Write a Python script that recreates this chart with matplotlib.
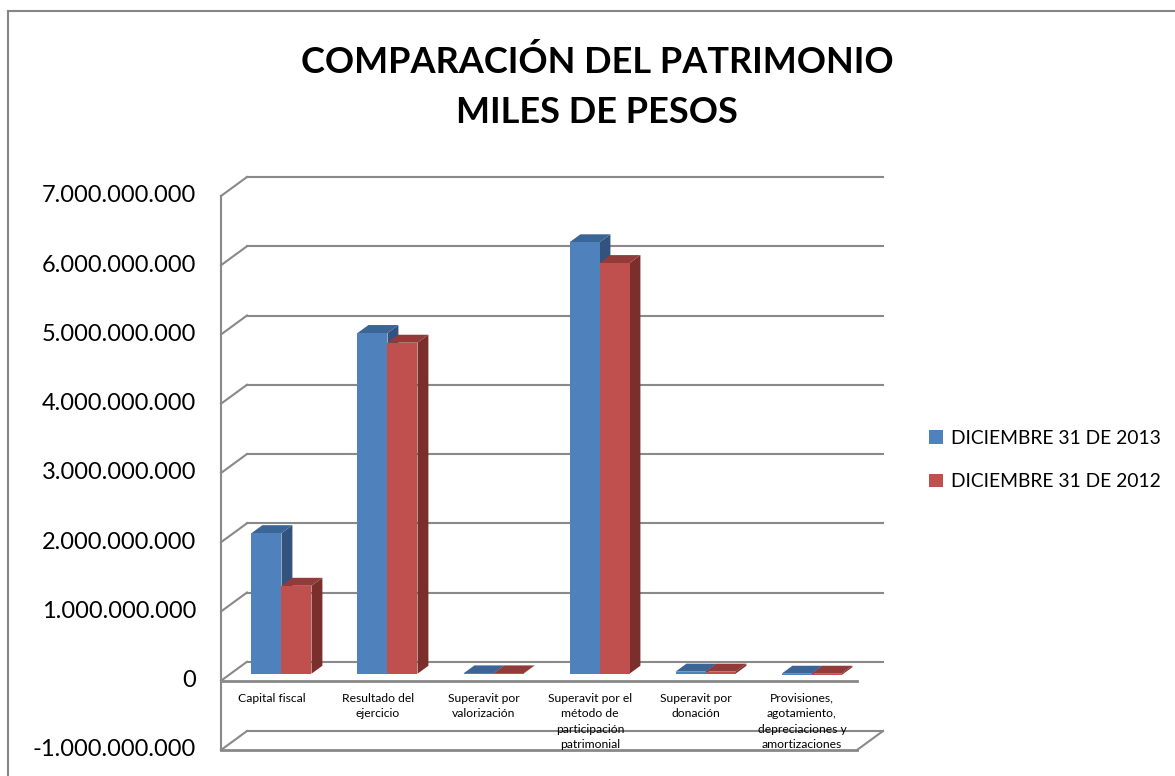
import matplotlib.pyplot as plt
from matplotlib.patches import Polygon, Patch
from matplotlib.lines import Line2D

plt.rcParams['font.family'] = ['Lato', 'DejaVu Sans']

# datos (miles de pesos)
categorias = ["Capital fiscal", "Resultado del\nejercicio", "Superavit por\nvalorización",
              "Superavit por el\nmétodo de\nparticipación\npatrimonial", "Superavit por\ndonación",
              "Provisiones,\nagotamiento,\ndepreciaciones y\namortizaciones"]
dic_2013 = [2.03e9, 4.92e9, 0.005e9, 6.23e9, 0.03e9, -0.02e9]
dic_2012 = [1.27e9, 4.78e9, 0.005e9, 5.93e9, 0.03e9, -0.02e9]
series = ["DICIEMBRE 31 DE 2013", "DICIEMBRE 31 DE 2012"]
ticks_y = [-1e9, 0, 1e9, 2e9, 3e9, 4e9, 5e9, 6e9, 7e9]

# colores: frente, tapa, lado
col_azul = ("#4F81BD", "#3C6597", "#31537D")
col_rojo = ("#C0504D", "#923B39", "#7A2F2D")

# proyeccion oblicua tipo Excel 3D
DX = 0.245      # en categorias
DY = 0.274e9    # en valores
ancho = 0.283
f0, f1 = 0.37, 0.79
gris = "#898989"


def fmt(v):
    return f"{int(v):,}".replace(",", ".")


fig = plt.figure(figsize=(11.75, 7.76), dpi=100)
ax = fig.add_axes([221 / 1175, 1 - 750 / 776, 662 / 1175, 573 / 776])
ax.set_xlim(0, len(categorias) + DX)
ax.set_ylim(ticks_y[0], ticks_y[-1] + DY)
ax.axis("off")

# lineas de division (pared del fondo y lateral)
n = len(categorias)
for v in ticks_y:
    ax.plot([DX, n + DX], [v + DY, v + DY], color=gris, lw=1.5, zorder=1, clip_on=False)
    ax.plot([0, DX], [v, v + DY], color=gris, lw=1.5, zorder=1, clip_on=False)
ax.plot([0, 0], [ticks_y[0], ticks_y[-1]], color=gris, lw=1.5, zorder=1, clip_on=False)
ax.plot([0, n], [0, 0], color=gris, lw=2, zorder=1, clip_on=False)
ax.plot([0, n], [ticks_y[0], ticks_y[0]], color=gris, lw=2, zorder=1, clip_on=False)
ax.plot([n, n + DX], [ticks_y[0], ticks_y[0] + DY], color=gris, lw=1.5, zorder=1, clip_on=False)

# barras 3D
for i in range(n):
    for s, (vals, cols) in enumerate([(dic_2013, col_azul), (dic_2012, col_rojo)]):
        v = vals[i]
        x0 = i + 0.48 - ancho + s * ancho
        lo, hi = min(0, v), max(0, v)
        frente = [(x0 + f0 * DX, lo + f0 * DY), (x0 + ancho + f0 * DX, lo + f0 * DY),
                  (x0 + ancho + f0 * DX, hi + f0 * DY), (x0 + f0 * DX, hi + f0 * DY)]
        tapa = [(x0 + f0 * DX, hi + f0 * DY), (x0 + ancho + f0 * DX, hi + f0 * DY),
                (x0 + ancho + f1 * DX, hi + f1 * DY), (x0 + f1 * DX, hi + f1 * DY)]
        lado = [(x0 + ancho + f0 * DX, lo + f0 * DY), (x0 + ancho + f1 * DX, lo + f1 * DY),
                (x0 + ancho + f1 * DX, hi + f1 * DY), (x0 + ancho + f0 * DX, hi + f0 * DY)]
        z = 3 + s
        ax.add_patch(Polygon(lado, closed=True, fc=cols[2], ec="none", zorder=z))
        ax.add_patch(Polygon(tapa, closed=True, fc=cols[1], ec="none", zorder=z))
        ax.add_patch(Polygon(frente, closed=True, fc=cols[0], ec="none", zorder=z))

# etiquetas de categoria
for i, c in enumerate(categorias):
    ax.text(i + 0.48, -0.17e9, c, ha="center", va="top", fontsize=8.7,
            linespacing=1.5, zorder=6)

# etiquetas eje y
for v in ticks_y:
    ax.text(-0.236, v, fmt(v), ha="right", va="center", fontsize=17)

# titulo
fig.text(597 / 1175, 1 - 87 / 776, "COMPARACIÓN DEL PATRIMONIO\nMILES DE PESOS",
         ha="center", va="center", fontsize=26, fontweight="bold", linespacing=1.62)

# leyenda
handles = [Patch(fc=col_azul[0]), Patch(fc=col_rojo[0])]
fig.legend(handles, series, loc="center left", bbox_to_anchor=(912 / 1175, 1 - 460 / 776),
           frameon=False, fontsize=13.9, handlelength=0.7, handleheight=0.7,
           handletextpad=0.4, labelspacing=1.35)

# borde del grafico
fig.add_artist(Line2D([8 / 1175, 8 / 1175], [0, 1 - 11 / 776], color="#868686", lw=1.5))
fig.add_artist(Line2D([8 / 1175, 1], [1 - 11 / 776, 1 - 11 / 776], color="#868686", lw=1.5))

fig.savefig("out.png", dpi=100)
